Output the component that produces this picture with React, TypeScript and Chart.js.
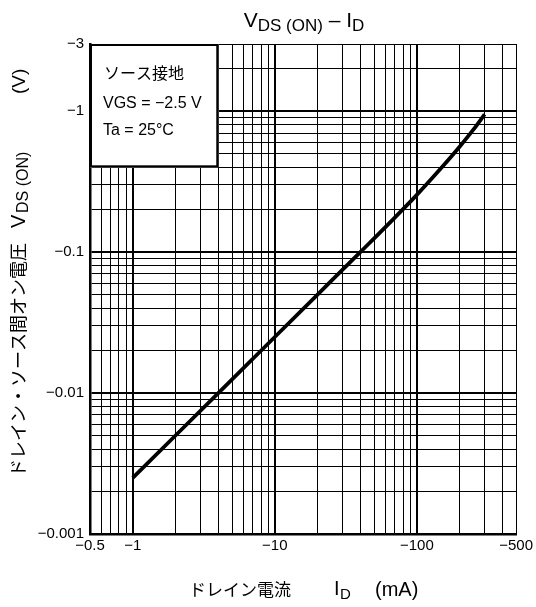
import React, { useEffect, useRef } from "react";
import { Chart, registerables } from "chart.js";

Chart.register(...registerables);

// ---- data (magnitudes; all values are negative in the original, shown with a minus sign) ----
const drainCurrentMA = [1, 2, 4, 10, 20, 40, 70, 100, 150, 200, 250, 300];
const vdsOnV = [0.0025, 0.005, 0.01, 0.025, 0.05, 0.1, 0.176, 0.255, 0.4, 0.56, 0.74, 0.95];

const xGridValues = [
  0.5, 0.6, 0.7, 0.8, 0.9, 1, 2, 3, 4, 5, 6, 7, 8, 9, 10, 20, 30, 40, 50, 60, 70, 80, 90, 100, 200, 300, 400, 500,
];
const yGridValues = [
  0.001, 0.002, 0.003, 0.004, 0.005, 0.006, 0.007, 0.008, 0.009, 0.01, 0.02, 0.03, 0.04, 0.05, 0.06, 0.07, 0.08,
  0.09, 0.1, 0.2, 0.3, 0.4, 0.5, 0.6, 0.7, 0.8, 0.9, 1, 2, 3,
];
const xTickLabels: Record<string, string> = { "0.5": "−0.5", "1": "−1", "10": "−10", "100": "−100", "500": "−500" };
const yTickLabels: Record<string, string> = { "0.001": "−0.001", "0.01": "−0.01", "0.1": "−0.1", "1": "−1", "3": "−3" };
const xDecades = [1, 10, 100];
const yDecades = [0.01, 0.1, 1];

const chartTitle = { main: "V", sub: "DS (ON)", dash: " – ", main2: "I", sub2: "D" };
const xTitle = { jp: "ドレイン電流", main: "I", sub: "D", unit: "(mA)" };
const yTitle = { jp: "ドレイン・ソース間オン電圧", main: "V", sub: "DS (ON)", unit: "(V)" };
const conditionLines = ["ソース接地", "VGS = −2.5 V", "Ta = 25°C"];

const LATIN = '"Liberation Sans", Arial, "Noto Sans CJK JP", sans-serif';
const CJK = '"Noto Sans CJK JP", "Liberation Sans", sans-serif';

const textPlugin = {
  id: "texts",
  afterDraw(chart: any) {
    const ctx: CanvasRenderingContext2D = chart.ctx;
    const xs = chart.scales.x;
    const ys = chart.scales.y;
    ctx.save();

    // condition box (data-space corners 0.5..4 mA, 0.4..3 V)
    const bx0 = xs.getPixelForValue(0.5);
    const bx1 = xs.getPixelForValue(4);
    const by0 = ys.getPixelForValue(3);
    const by1 = ys.getPixelForValue(0.4);
    ctx.fillStyle = "#fff";
    ctx.fillRect(bx0, by0, bx1 - bx0, by1 - by0);
    ctx.strokeStyle = "#000";
    ctx.lineWidth = 2;
    ctx.strokeRect(bx0 + 1, by0 + 1, bx1 - bx0 - 2, by1 - by0 - 2);

    ctx.fillStyle = "#000";
    ctx.textBaseline = "alphabetic";
    ctx.textAlign = "left";
    ctx.font = `16px ${CJK}`;
    ctx.fillText(conditionLines[0], 104, 79);
    ctx.font = `16px ${LATIN}`;
    ctx.fillText(conditionLines[1], 103, 108);
    ctx.fillText(conditionLines[2], 103, 135);

    // chart title
    const segsTop = [
      { t: chartTitle.main, f: `21px ${LATIN}`, dy: 0 },
      { t: chartTitle.sub, f: `17px ${LATIN}`, dy: 4 },
      { t: chartTitle.dash, f: `21px ${LATIN}`, dy: 0 },
      { t: chartTitle.main2, f: `21px ${LATIN}`, dy: 0 },
      { t: chartTitle.sub2, f: `17px ${LATIN}`, dy: 4 },
    ];
    let total = 0;
    for (const s of segsTop) {
      ctx.font = s.f;
      total += ctx.measureText(s.t).width;
    }
    let cx = 304 - total / 2;
    for (const s of segsTop) {
      ctx.font = s.f;
      ctx.fillText(s.t, cx, 27 + s.dy);
      cx += ctx.measureText(s.t).width;
    }

    // x title
    ctx.font = `17px ${CJK}`;
    ctx.fillText(xTitle.jp, 189, 596);
    ctx.font = `20px ${LATIN}`;
    ctx.fillText(xTitle.main, 334, 595);
    ctx.font = `15px ${LATIN}`;
    ctx.fillText(xTitle.sub, 340, 599);
    ctx.font = `20px ${LATIN}`;
    ctx.fillText(xTitle.unit, 375, 596);

    // y title (rotated, reads bottom to top)
    ctx.save();
    ctx.rotate(-Math.PI / 2);
    ctx.font = `18px ${CJK}`;
    ctx.fillText(yTitle.jp, -477, 25);
    ctx.font = `20px ${LATIN}`;
    ctx.fillText(yTitle.main, -228, 25);
    ctx.font = `16px ${LATIN}`;
    ctx.fillText(yTitle.sub, -213, 28);
    ctx.font = `19px ${LATIN}`;
    ctx.fillText(yTitle.unit, -94, 25);
    ctx.restore();

    ctx.restore();
  },
};

export default function App() {
  const canvasRef = useRef<HTMLCanvasElement | null>(null);

  useEffect(() => {
    const canvas = canvasRef.current;
    if (!canvas) return;
    const points = drainCurrentMA.map((x, i) => ({ x, y: vdsOnV[i] }));
    const chart = new Chart(canvas, {
      type: "line",
      data: {
        datasets: [
          {
            data: points,
            borderColor: "#000",
            borderWidth: 3.8,
            pointRadius: 0,
            fill: false,
            cubicInterpolationMode: "monotone",
          },
        ],
      },
      options: {
        animation: false,
        responsive: false,
        devicePixelRatio: 1,
        layout: { padding: { top: 44, right: 19, left: 0, bottom: 0 } },
        plugins: { legend: { display: false }, tooltip: { enabled: false }, title: { display: false } },
        scales: {
          x: {
            type: "logarithmic",
            min: 0.5,
            max: 500,
            afterBuildTicks: (s: any) => {
              s.ticks = xGridValues.map((v) => ({ value: v }));
            },
            afterFit: (s: any) => {
              s.height = 73;
            },
            ticks: {
              autoSkip: false,
              maxRotation: 0,
              minRotation: 0,
              padding: 3,
              color: "#000",
              font: { family: LATIN, size: 15 },
              callback: (v: any) => xTickLabels[String(v)] ?? "",
            },
            grid: {
              color: "#000",
              drawTicks: false,
              lineWidth: (c: any) => (c.tick && xDecades.includes(c.tick.value) ? 2 : 1),
            },
            border: { color: "#000", width: 2.5 },
          },
          y: {
            type: "logarithmic",
            min: 0.001,
            max: 3,
            afterBuildTicks: (s: any) => {
              s.ticks = yGridValues.map((v) => ({ value: v }));
            },
            afterFit: (s: any) => {
              s.width = 90;
            },
            ticks: {
              autoSkip: false,
              padding: 6,
              color: "#000",
              font: { family: LATIN, size: 15 },
              callback: (v: any) => yTickLabels[String(v)] ?? "",
            },
            grid: {
              color: "#000",
              drawTicks: false,
              lineWidth: (c: any) => (c.tick && yDecades.includes(c.tick.value) ? 2 : 1),
            },
            border: { color: "#000", width: 2.5 },
          },
        },
      },
      plugins: [textPlugin],
    } as any);
    return () => chart.destroy();
  }, []);

  return (
    <div style={{ position: "absolute", left: 0, top: 0, width: 536, height: 607, background: "#fff" }}>
      <canvas ref={canvasRef} width={536} height={607} style={{ width: 536, height: 607, display: "block" }} />
    </div>
  );
}
